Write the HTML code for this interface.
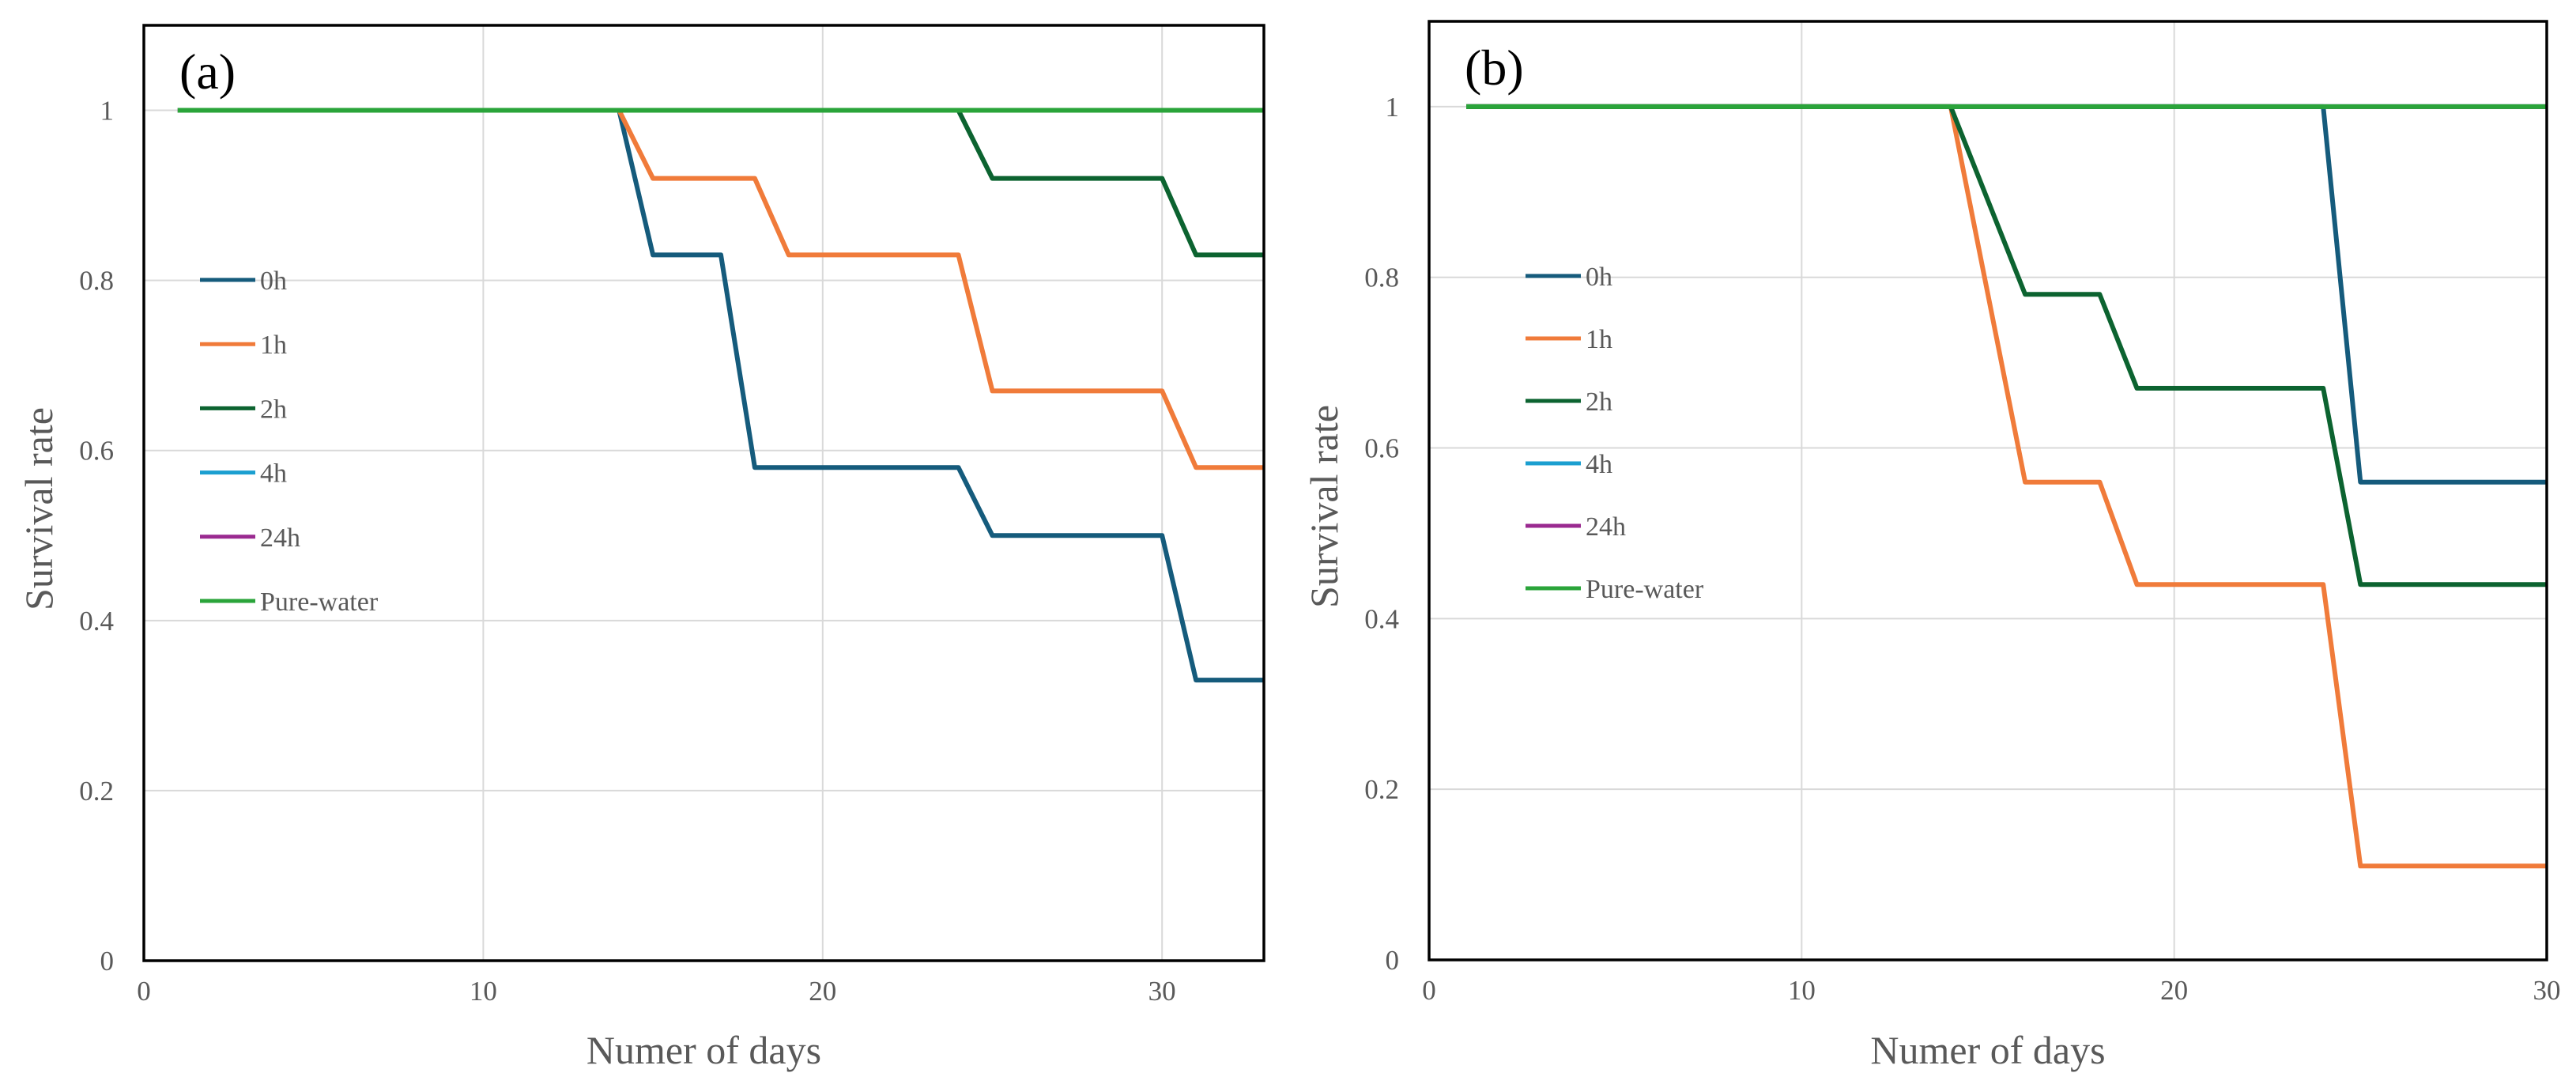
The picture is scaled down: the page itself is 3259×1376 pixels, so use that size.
<!DOCTYPE html>
<html><head><meta charset="utf-8"><style>
html,body{margin:0;padding:0;background:#fff;}
svg{display:block;}
text{font-family:"Liberation Serif",serif;}
</style></head><body>
<svg id="chart" width="3259" height="1376" viewBox="0 0 3259 1376" xmlns="http://www.w3.org/2000/svg"></svg>
<script>
const seriesNames = ["0h","1h","2h","4h","24h","Pure-water"];
const seriesColors = ["#155b7c","#f07b3a","#0c6330","#1b9fd0","#9a2a90","#2aa43a"];
const daysA = [1,14,15,17,18,19,24,25,30,31,33];
const a0h  = [1,1,0.83,0.83,0.58,0.58,0.58,0.5,0.5,0.33,0.33];
const a1h  = [1,1,0.92,0.92,0.92,0.83,0.83,0.67,0.67,0.58,0.58];
const a2h  = [1,1,1,1,1,1,1,0.92,0.92,0.83,0.83];
const a4h  = [1,1,1,1,1,1,1,1,1,1,1];
const a24h = [1,1,1,1,1,1,1,1,1,1,1];
const aPure= [1,1,1,1,1,1,1,1,1,1,1];
const daysB = [1,14,16,18,19,24,25,30];
const b0h  = [1,1,1,1,1,1,0.56,0.56];
const b1h  = [1,1,0.56,0.56,0.44,0.44,0.11,0.11];
const b2h  = [1,1,0.78,0.78,0.67,0.67,0.44,0.44];
const b4h  = [1,1,1,1,1,1,1,1];
const b24h = [1,1,1,1,1,1,1,1];
const bPure= [1,1,1,1,1,1,1,1];
const yTicks = [0,0.2,0.4,0.6,0.8,1];
const yTickLabels = ["0","0.2","0.4","0.6","0.8","1"];
const xTicks = [0,10,20,30];
const xTickLabels = ["0","10","20","30"];

const NS="http://www.w3.org/2000/svg";
const svg=document.getElementById('chart');
function mk(tag,attrs,parent){const e=document.createElementNS(NS,tag);for(const k in attrs)e.setAttribute(k,attrs[k]);(parent||svg).appendChild(e);return e;}

function panel(cfg){
  const g=mk('g',{});
  
  
  const X=v=>cfg.x0+(v-0)/(cfg.xmax)*(cfg.x1-cfg.x0);
  const Y=v=>cfg.y0-(v/1.1)*(cfg.y0-cfg.yTop);
  const clip=mk('clipPath',{id:'clip'+cfg.id},g);
  mk('rect',{x:cfg.x0,y:cfg.yTop,width:cfg.x1-cfg.x0,height:cfg.y0-cfg.yTop},clip);
  yTicks.forEach((t,i)=>{
    if(t>0){const l=mk('line',{x1:cfg.x0,x2:cfg.x1,y1:Y(t),y2:Y(t),stroke:'#d9d9d9','stroke-width':2},g);
    
    }
    const tx=mk('text',{x:cfg.x0-38,y:Y(t)+12,'text-anchor':'end','font-size':35,fill:'#595959'},g);
    tx.textContent=yTickLabels[i];
    
    
  });
  xTicks.forEach((t,i)=>{
    if(t>0&&t<cfg.xmax){const l=mk('line',{x1:X(t),x2:X(t),y1:cfg.yTop,y2:cfg.y0,stroke:'#d9d9d9','stroke-width':2},g);
    
    }
    const tx=mk('text',{x:X(t),y:cfg.y0+50,'text-anchor':'middle','font-size':35,fill:'#595959'},g);
    tx.textContent=xTickLabels[i];
    
    
  });
  const order=[3,4,0,1,2,5];
  order.forEach(si=>{
    const vals=cfg.series[si];
    const pts=cfg.days.map((d,i)=>X(d).toFixed(1)+','+Y(vals[i]).toFixed(1)).join(' ');
    const p=mk('polyline',{points:pts,fill:'none',stroke:seriesColors[si],'stroke-width':6,'stroke-linejoin':'round','clip-path':'url(#clip'+cfg.id+')'},g);
    
    
  });
  const fr=mk('rect',{x:cfg.x0,y:cfg.yTop,width:cfg.x1-cfg.x0,height:cfg.y0-cfg.yTop,fill:'none',stroke:'#000','stroke-width':3.5},g);
  
  
  const lg=mk('g',{},g);
  
  
  seriesNames.forEach((n,i)=>{
    const yy=cfg.legY+i*cfg.legDy;
    const e=mk('g',{},lg);
    
    
    mk('line',{x1:cfg.legX,x2:cfg.legX+70,y1:yy,y2:yy,stroke:seriesColors[i],'stroke-width':5},e);
    const t=mk('text',{x:cfg.legX+76,y:yy+12,'font-size':34,fill:'#595959'},e);
    t.textContent=n;
  });
  const pl=mk('text',{x:cfg.x0+45,y:cfg.yTop+80,'font-size':64,fill:'#000'},g);
  pl.textContent=cfg.label;
  
  
  const yt=mk('text',{x:0,y:0,'font-size':50,fill:'#595959','text-anchor':'middle',transform:`translate(${cfg.yTitleX},${(cfg.y0+cfg.yTop)/2+20}) rotate(-90)`},g);
  yt.textContent='Survival rate';
  
  
  const xt=mk('text',{x:(cfg.x0+cfg.x1)/2,y:1345,'font-size':50,fill:'#595959','text-anchor':'middle'},g);
  xt.textContent='Numer of days';
  
  
}
panel({id:'a',label:'(a)',x0:182,x1:1599,xmax:33,y0:1215,yTop:32,days:daysA,series:[a0h,a1h,a2h,a4h,a24h,aPure],legX:253,legY:354,legDy:81.2,yTitleX:66});
panel({id:'b',label:'(b)',x0:1808,x1:3222,xmax:30,y0:1214,yTop:27,days:daysB,series:[b0h,b1h,b2h,b4h,b24h,bPure],legX:1930,legY:349,legDy:79,yTitleX:1692});
</script>
</body></html>
